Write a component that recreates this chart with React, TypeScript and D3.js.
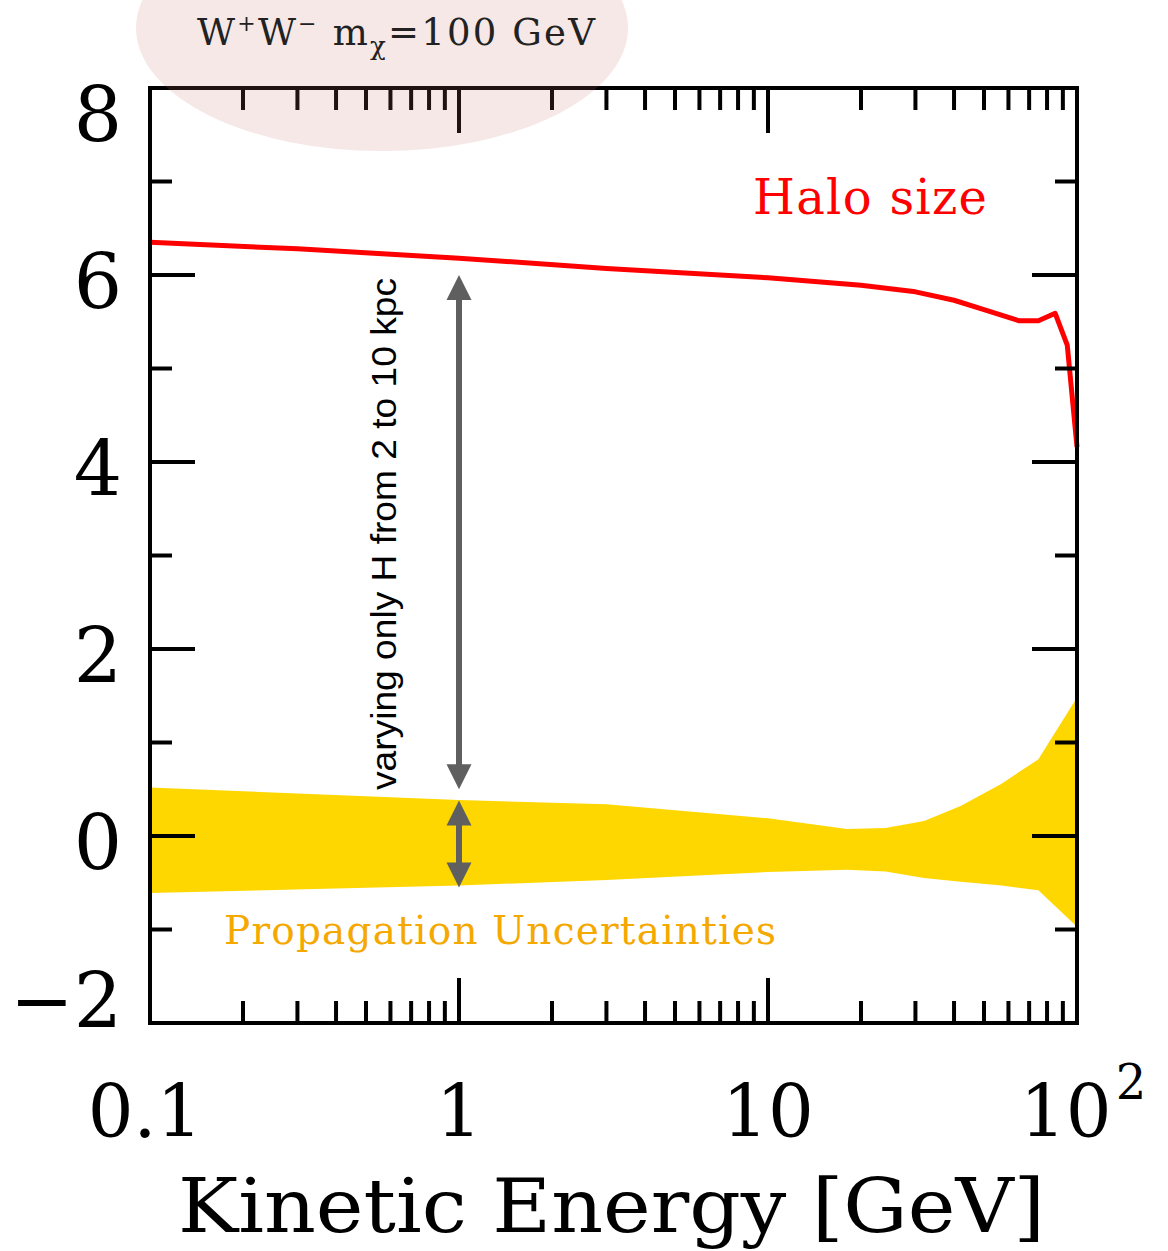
import React, { useEffect, useRef } from 'react';
import * as d3 from 'd3';

// halo size curve (red)
const haloEnergy = [0.1, 0.3, 1, 3, 10, 20, 30, 40, 50, 65, 75, 85, 93, 100];
const haloValue = [6.35, 6.28, 6.18, 6.07, 5.97, 5.89, 5.82, 5.73, 5.63, 5.51, 5.51, 5.59, 5.25, 4.16];

// propagation uncertainty band (yellow)
const bandEnergy = [0.1, 1, 3, 10, 18, 24, 32, 42, 57, 75, 100];
const bandUpper = [0.52, 0.385, 0.34, 0.19, 0.075, 0.085, 0.16, 0.32, 0.56, 0.82, 1.48];
const bandLower = [-0.61, -0.53, -0.47, -0.385, -0.36, -0.38, -0.45, -0.49, -0.53, -0.58, -0.97];

// annotation arrows at E = 1 GeV, [from, to] in y units
const arrowE = 1;
const arrowSpans = [[6.0, 0.5], [0.38, -0.55]];

const yTickValues = [-2, -1, 0, 1, 2, 3, 4, 5, 6, 7, 8];
const yTickLabels = ['\u22122', '', '0', '', '2', '', '4', '', '6', '', '8'];
const xTickLabels = ['0.1', '1', '10'];

const App = () => {
  const svgRef = useRef<SVGSVGElement>(null);

  useEffect(() => {
    const width = 1168;
    const height = 1251;
    const left = 150, right = 1077, top = 88, bottom = 1023;
    const serif = '"DejaVu Serif", serif';

    const svg = d3.select(svgRef.current)
      .attr('width', width)
      .attr('height', height);
    svg.selectAll('*').remove();

    const x = d3.scaleLog().domain([0.1, 100]).range([left, right]);
    const y = d3.scaleLinear().domain([-2, 8]).range([bottom, top]);

    // yellow band
    const area = d3.area<number>()
      .x((_, i) => x(bandEnergy[i]))
      .y0((_, i) => y(bandLower[i]))
      .y1((_, i) => y(bandUpper[i]));
    svg.append('path')
      .attr('d', area(bandEnergy))
      .attr('fill', '#ffd700');

    // red halo curve
    const line = d3.line<number>()
      .x((_, i) => x(haloEnergy[i]))
      .y((_, i) => y(haloValue[i]));
    svg.append('path')
      .attr('d', line(haloEnergy))
      .attr('fill', 'none')
      .attr('stroke', '#ff0000')
      .attr('stroke-width', 5)
      .attr('stroke-linejoin', 'round');

    // arrows
    const ax = x(arrowE);
    const headW = 12.5, headH = 25;
    arrowSpans.forEach(([a, b]) => {
      const y1 = y(a), y2 = y(b);
      svg.append('line')
        .attr('x1', ax).attr('x2', ax)
        .attr('y1', y1 + headH - 2).attr('y2', y2 - headH + 2)
        .attr('stroke', '#5f5f5f').attr('stroke-width', 6);
      svg.append('path')
        .attr('d', `M${ax},${y1}L${ax - headW},${y1 + headH}L${ax + headW},${y1 + headH}Z`)
        .attr('fill', '#5f5f5f');
      svg.append('path')
        .attr('d', `M${ax},${y2}L${ax - headW},${y2 - headH}L${ax + headW},${y2 - headH}Z`)
        .attr('fill', '#5f5f5f');
    });

    // frame
    svg.append('rect')
      .attr('x', left).attr('y', top)
      .attr('width', right - left).attr('height', bottom - top)
      .attr('fill', 'none').attr('stroke', '#000').attr('stroke-width', 4);

    // x ticks top and bottom
    const xt = x.ticks();
    xt.forEach(t => {
      const major = Math.abs(Math.log10(t) - Math.round(Math.log10(t))) < 1e-6;
      const len = major ? 45 : 22;
      if (t <= 0.1 || t >= 100) return;
      svg.append('line')
        .attr('x1', x(t)).attr('x2', x(t))
        .attr('y1', bottom).attr('y2', bottom - len)
        .attr('stroke', '#000').attr('stroke-width', 4);
      svg.append('line')
        .attr('x1', x(t)).attr('x2', x(t))
        .attr('y1', top).attr('y2', top + len)
        .attr('stroke', '#000').attr('stroke-width', 4);
    });

    // y ticks left and right
    yTickValues.forEach((v, i) => {
      const len = v % 2 === 0 ? 45 : 22;
      if (v > -2 && v < 8) {
        svg.append('line')
          .attr('x1', left).attr('x2', left + len)
          .attr('y1', y(v)).attr('y2', y(v))
          .attr('stroke', '#000').attr('stroke-width', 4);
        svg.append('line')
          .attr('x1', right).attr('x2', right - len)
          .attr('y1', y(v)).attr('y2', y(v))
          .attr('stroke', '#000').attr('stroke-width', 4);
      }
      if (yTickLabels[i]) {
        const cy = Math.min(Math.max(y(v) + 6, 114), 1000);
        svg.append('text')
          .attr('x', 122).attr('y', cy)
          .attr('dy', '0.36em')
          .attr('text-anchor', 'end')
          .attr('font-family', serif)
          .attr('font-size', 76)
          .text(yTickLabels[i]);
      }
    });

    // x tick labels
    [0.1, 1, 10].forEach((t, i) => {
      svg.append('text')
        .attr('x', x(t) - (i === 0 ? 5 : 0)).attr('y', 1137)
        .attr('text-anchor', 'middle')
        .attr('font-family', serif)
        .attr('font-size', 72)
        .text(xTickLabels[i]);
    });
    const t100 = svg.append('text')
      .attr('x', 1020).attr('y', 1137)
      .attr('font-family', serif)
      .attr('font-size', 72);
    t100.append('tspan').text('10');
    t100.append('tspan').attr('dx', 4).attr('dy', -38).attr('font-size', 48).text('2');

    // x axis title
    svg.append('text')
      .attr('x', 178).attr('y', 1232)
      .attr('font-family', serif)
      .attr('font-size', 74)
      .attr('textLength', 867)
      .attr('lengthAdjust', 'spacingAndGlyphs')
      .text('Kinetic Energy [GeV]');

    // labels
    svg.append('text')
      .attr('x', 753).attr('y', 214)
      .attr('font-family', serif)
      .attr('font-size', 48)
      .attr('fill', '#ff0000')
      .attr('textLength', 234)
      .attr('lengthAdjust', 'spacing')
      .text('Halo size');

    svg.append('text')
      .attr('x', 224).attr('y', 944)
      .attr('font-family', serif)
      .attr('font-size', 39)
      .attr('fill', '#f5a800')
      .attr('textLength', 552)
      .attr('lengthAdjust', 'spacing')
      .text('Propagation Uncertainties');

    svg.append('text')
      .attr('transform', `translate(396, 534) rotate(-90)`)
      .attr('text-anchor', 'middle')
      .attr('font-family', '"Liberation Sans", Arial, sans-serif')
      .attr('font-size', 35)
      .attr('textLength', 512)
      .attr('lengthAdjust', 'spacingAndGlyphs')
      .text('varying only H from 2 to 10 kpc');

    // top-left annotation bubble
    svg.append('ellipse')
      .attr('cx', 382).attr('cy', 28)
      .attr('rx', 246).attr('ry', 123)
      .attr('fill', 'rgb(190,115,100)')
      .attr('fill-opacity', 0.16);

    const title = svg.append('text')
      .attr('x', 197).attr('y', 45)
      .attr('font-family', serif)
      .attr('font-size', 37)
      .attr('letter-spacing', 2.2)
      .attr('fill', '#222');
    title.append('tspan').text('W');
    title.append('tspan').attr('dy', -14).attr('font-size', 22).text('+');
    title.append('tspan').attr('dy', 14).text('W');
    title.append('tspan').attr('dy', -14).attr('font-size', 22).text('\u2212');
    title.append('tspan').attr('dy', 14).text(' m');
    title.append('tspan').attr('dy', 10).attr('font-size', 26).text('\u03c7');
    title.append('tspan').attr('dy', -10).text('=100 GeV');
  }, []);

  return (
    <svg ref={svgRef} style={{ position: 'absolute', left: 0, top: 0, background: '#fff' }} />
  );
};

export default App;
